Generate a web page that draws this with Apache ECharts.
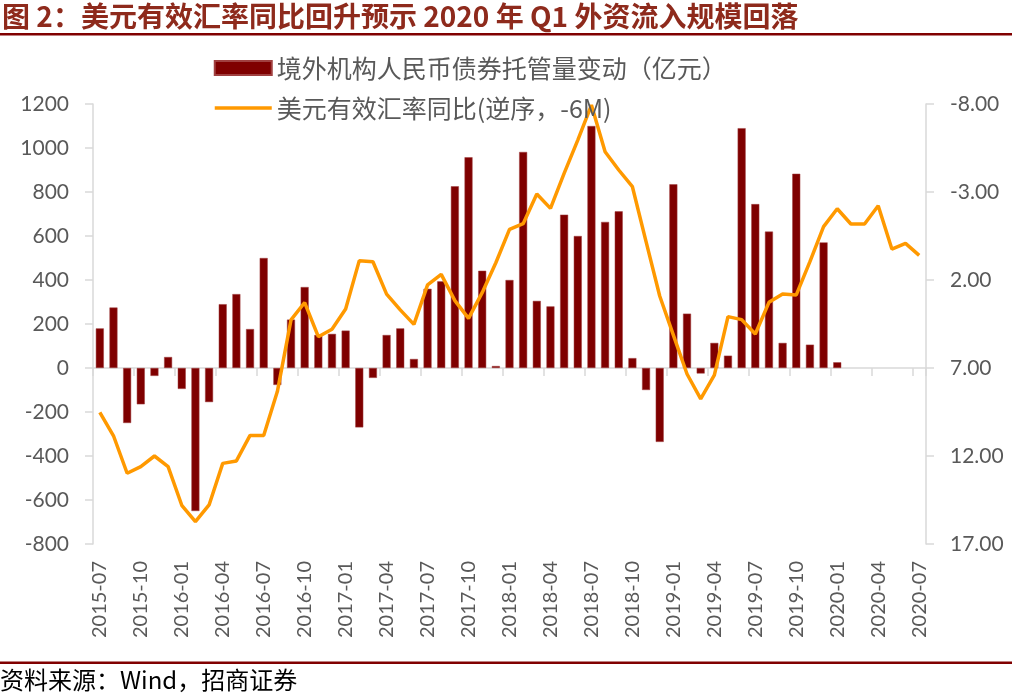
<!DOCTYPE html>
<html>
<head>
<meta charset="utf-8">
<style>
html,body{margin:0;padding:0;background:#fff;}
#chart{width:1012px;height:695px;}
</style>
<script src="https://cdn.jsdelivr.net/npm/echarts@6/dist/echarts.min.js"></script>
</head>
<body>
<div id="chart"></div>
<script>
const titleText = '图 2：美元有效汇率同比回升预示 2020 年 Q1 外资流入规模回落';
const sourceText = '资料来源：Wind，招商证券';
const barName = '境外机构人民币债券托管量变动（亿元）';
const lineName = '美元有效汇率同比(逆序，-6M)';

const categories = [
  '2015-07','2015-08','2015-09','2015-10','2015-11','2015-12',
  '2016-01','2016-02','2016-03','2016-04','2016-05','2016-06',
  '2016-07','2016-08','2016-09','2016-10','2016-11','2016-12',
  '2017-01','2017-02','2017-03','2017-04','2017-05','2017-06',
  '2017-07','2017-08','2017-09','2017-10','2017-11','2017-12',
  '2018-01','2018-02','2018-03','2018-04','2018-05','2018-06',
  '2018-07','2018-08','2018-09','2018-10','2018-11','2018-12',
  '2019-01','2019-02','2019-03','2019-04','2019-05','2019-06',
  '2019-07','2019-08','2019-09','2019-10','2019-11','2019-12',
  '2020-01','2020-02','2020-03','2020-04','2020-05','2020-06',
  '2020-07'
];

const bondCustodyChange = [
  180, 275, -250, -165, -36, 50,
  -95, -650, -155, 290, 336, 177,
  500, -77, 220, 368, 150, 155,
  170, -270, -45, 150, 180, 41,
  360, 394, 826, 958, 442, 9,
  400, 982, 305, 280, 697, 600,
  1100, 664, 712, 45, -100, -336,
  835, 247, -25, 114, 56, 1090,
  745, 620, 114, 883, 106, 571,
  26, null, null, null, null, null,
  null
];

const usdReerYoY = [
  9.52, 10.85, 12.98, 12.6, 12.0, 12.6,
  14.8, 15.73, 14.78, 12.42, 12.28, 10.83,
  10.83, 8.34, 4.27, 3.28, 5.22, 4.8,
  3.65, 0.9, 0.96, 2.8, 3.7, 4.52,
  2.28, 1.68, 3.17, 4.18, 2.72, 1.02,
  -0.88, -1.2, -2.89, -2.07, -4.06, -5.95,
  -7.94, -5.29, -4.25, -3.3, -0.18, 2.91,
  5.13, 7.34, 8.75, 7.4, 4.08, 4.25,
  5.07, 3.27, 2.8, 2.85, 0.96, -1.03,
  -2.05, -1.18, -1.18, -2.22, 0.24, -0.08,
  0.6
];

const leftAxis = {min: -800, max: 1200, interval: 200};
const rightAxis = {min: -8, max: 17, interval: 5};

const chart = echarts.init(document.getElementById('chart'), null, {renderer: 'canvas'});
const axisGray = '#d9d9d9';
const labelGray = '#595959';
const numFont = 'Lato';
const cjkFont = "'Noto Sans CJK SC'";

chart.setOption({
  animation: false,
  backgroundColor: '#ffffff',
  grid: {left: 93, right: 86, top: 104, bottom: 151, containLabel: false},
  legend: {
    orient: 'vertical',
    left: 213,
    top: 55,
    padding: 0,
    itemWidth: 57,
    itemHeight: 14,
    itemGap: 14,
    selectedMode: false,
    textStyle: {fontFamily: cjkFont, fontSize: 25, color: labelGray, lineHeight: 26},
    data: [
      {name: barName, icon: 'rect'},
      {name: lineName, itemStyle: {opacity: 0}, lineStyle: {color: '#ff9900', width: 3.5}}
    ]
  },
  xAxis: [
    {
      type: 'category',
      data: categories,
      boundaryGap: true,
      axisLine: {show: true, onZero: true, onZeroAxisIndex: 0, lineStyle: {color: axisGray, width: 1.5}},
      axisTick: {show: true, interval: 2, length: 8, lineStyle: {color: axisGray, width: 1.5}},
      axisLabel: {show: false},
      splitLine: {show: false}
    },
    {
      type: 'category',
      data: categories,
      position: 'bottom',
      boundaryGap: true,
      axisLine: {show: false, onZero: false},
      axisTick: {show: false},
      axisLabel: {show: true, interval: 2, rotate: 90, margin: 17, fontFamily: numFont, fontSize: 20, color: labelGray, hideOverlap: false},
      splitLine: {show: false}
    }
  ],
  yAxis: [
    {
      type: 'value',
      min: leftAxis.min, max: leftAxis.max, interval: leftAxis.interval,
      position: 'left',
      axisLine: {show: true, lineStyle: {color: axisGray, width: 1.5}},
      axisTick: {show: true, length: 8, lineStyle: {color: axisGray, width: 1.5}},
      axisLabel: {margin: 24, fontFamily: numFont, fontSize: 21, color: labelGray,
        formatter: function (v) { return String(v); }},
      splitLine: {show: false}
    },
    {
      type: 'value',
      min: rightAxis.min, max: rightAxis.max, interval: rightAxis.interval,
      inverse: true,
      position: 'right',
      axisLine: {show: true, lineStyle: {color: axisGray, width: 1.5}},
      axisTick: {show: true, length: 8, lineStyle: {color: axisGray, width: 1.5}},
      axisLabel: {margin: 24, fontFamily: numFont, fontSize: 21, color: labelGray,
        formatter: function (v) { return v.toFixed(2); }},
      splitLine: {show: false}
    }
  ],
  series: [
    {
      name: barName,
      type: 'bar',
      xAxisIndex: 0,
      yAxisIndex: 0,
      data: bondCustodyChange,
      barWidth: 8,
      itemStyle: {color: '#7f0000', borderColor: '#a04040', borderWidth: 0.5}
    },
    {
      name: lineName,
      type: 'line',
      xAxisIndex: 0,
      yAxisIndex: 1,
      data: usdReerYoY,
      symbol: 'none',
      showSymbol: false,
      smooth: false,
      lineStyle: {color: '#ff9900', width: 3.5},
      itemStyle: {color: '#ff9900'},
      z: 3
    }
  ],
  graphic: [
    {type: 'text', left: 2, top: 2, style: {text: titleText, font: "bold 28px 'Noto Sans CJK SC'", fill: '#8e2a1c'}},
    {type: 'rect', left: 0, top: 33, shape: {width: 1012, height: 2.5}, style: {fill: '#800000'}},
    {type: 'rect', left: 0, top: 661.5, shape: {width: 1012, height: 2.5}, style: {fill: '#800000'}},
    {type: 'text', left: 0, top: 668, style: {text: sourceText, font: "24px 'Noto Sans CJK SC'", fill: '#000000'}}
  ]
});
</script>
</body>
</html>
